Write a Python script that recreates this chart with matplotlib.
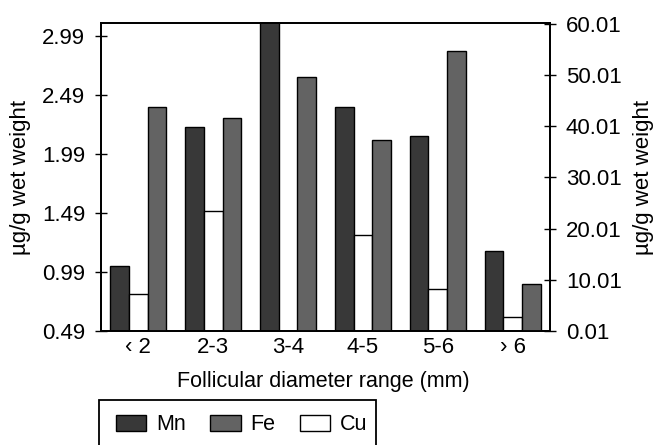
import numpy as np
import matplotlib
matplotlib.use("Agg")
import matplotlib.pyplot as plt
from matplotlib.patches import Patch, Rectangle

plt.rcParams["font.family"] = ["Liberation Sans", "DejaVu Sans"]

# follicular diameter classes
groups = ["\u2039 2", "2-3", "3-4", "4-5", "5-6", "\u203a 6"]

# Mn and Cu read on the left axis, Fe on the right axis (ug/g wet weight)
mn = [1.04, 2.22, 3.15, 2.39, 2.14, 1.17]
cu = [0.80, 1.51, 0.49, 1.30, 0.85, 0.61]
fe = [43.76, 41.67, 49.68, 37.31, 54.70, 9.19]

left_ticks = [0.49, 0.99, 1.49, 1.99, 2.49, 2.99]
right_ticks = [0.01, 10.01, 20.01, 30.01, 40.01, 50.01, 60.01]

mn_color = "#383838"
fe_color = "#636363"
cu_color = "#ffffff"

fig = plt.figure(figsize=(6.55, 4.45), dpi=100)
ax = fig.add_axes([101 / 655, 1 - 331 / 445, 449 / 655, 308 / 445])
ax2 = ax.twinx()

x = np.arange(len(groups))
w = 0.25
base = left_ticks[0]

ax.bar(x - w, np.array(mn) - base, w, bottom=base, color=mn_color,
       edgecolor="black", linewidth=1.0)
ax.bar(x, np.array(cu) - base, w, bottom=base, color=cu_color,
       edgecolor="black", linewidth=1.0)
ax2.bar(x + w, np.array(fe) - right_ticks[0], w, bottom=right_ticks[0],
        color=fe_color, edgecolor="black", linewidth=1.0)

ax.set_xlim(-0.5, len(groups) - 0.5)
ax.set_ylim(0.49, 3.10)
ax2.set_ylim(0.01, 60.2)

ax.set_xticks(x)
ax.set_xticklabels(groups, fontsize=16)
ax.tick_params(axis="x", length=0, pad=4)

ax.set_yticks(left_ticks)
ax.set_yticklabels([f"{t:.2f}" for t in left_ticks], fontsize=16)
ax.tick_params(axis="y", direction="inout", length=9, width=1, pad=7)

ax2.set_yticks(right_ticks)
ax2.set_yticklabels([f"{t:.2f}" for t in right_ticks], fontsize=16)
ax2.tick_params(axis="y", direction="inout", length=9, width=1, pad=7)

for a in (ax, ax2):
    for s in a.spines.values():
        s.set_linewidth(1.3)

fig.text(323 / 655, 1 - 381 / 445, "Follicular diameter range (mm)",
         ha="center", va="center", fontsize=15.5)
fig.text(21 / 655, 1 - 177 / 445, "\u00b5g/g wet weight", ha="center",
         va="center", rotation=90, fontsize=16)
fig.text(643 / 655, 1 - 177 / 445, "\u00b5g/g wet weight", ha="center",
         va="center", rotation=90, fontsize=16)

# legend box runs off the bottom edge of the figure
fig.patches.append(Rectangle((99 / 655, -0.05), 277 / 655, 0.05 + 45 / 445,
                             transform=fig.transFigure, fill=False,
                             edgecolor="black", linewidth=1.3))
handles = [
    Patch(facecolor=mn_color, edgecolor="black", label="Mn"),
    Patch(facecolor=fe_color, edgecolor="black", label="Fe"),
    Patch(facecolor=cu_color, edgecolor="black", label="Cu"),
]
fig.legend(handles=handles, loc="center left", ncol=3, frameon=False,
           bbox_to_anchor=(101 / 655, 1 - 425 / 445), fontsize=15.5,
           handlelength=1.4, handleheight=0.75, handletextpad=0.45,
           columnspacing=1.15, borderpad=0.2)

fig.savefig("out.png", dpi=100)
